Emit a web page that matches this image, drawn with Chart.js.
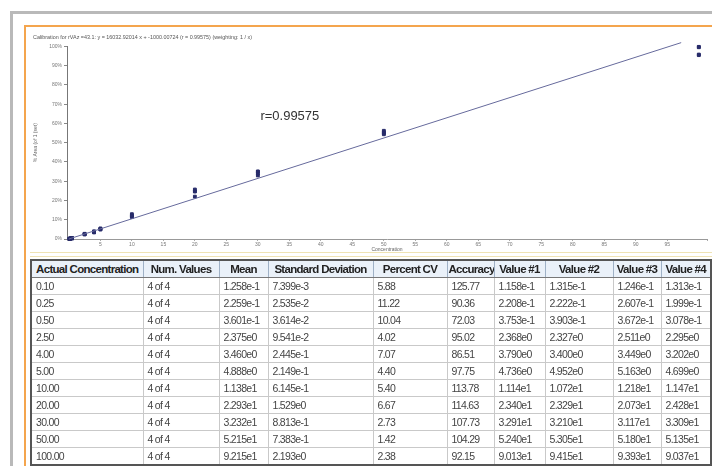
<!DOCTYPE html>
<html>
<head>
<meta charset="utf-8">
<script src="https://cdn.jsdelivr.net/npm/chart.js@4.4.0/dist/chart.umd.min.js"></script>
<style>
  body { margin: 0; background: #fff; font-family: "Liberation Sans", Arial, sans-serif; }
  #page { position: relative; width: 712px; height: 466px; overflow: hidden; }
  .gray-top { position: absolute; left: 10px; top: 11px; width: 702px; height: 3px; background: #b9b9b9; }
  .gray-left { position: absolute; left: 10px; top: 11px; width: 3px; height: 455px; background: #b9b9b9; }
  .orange-top { position: absolute; left: 24px; top: 25px; width: 688px; height: 2px; background: #f4a54e; }
  .orange-left { position: absolute; left: 24px; top: 25px; width: 2px; height: 441px; background: #f4a54e; }
  #chartBox { position: absolute; left: 27px; top: 29px; }
  .sep { position: absolute; left: 30px; top: 252px; width: 682px; height: 3px;
         border-top: 1px solid #efe3b4; border-bottom: 1px solid #efe3b4; }
  #tbl { position: absolute; left: 30px; top: 259px; width: 680px; border-collapse: collapse;
         table-layout: fixed; border: 2px solid #555; }
  #tbl th, #tbl td { border: 1px solid #c9c9c9; padding: 0 4px; height: 16px; line-height: 16px;
         white-space: nowrap; overflow: hidden; }
  #tbl th { font-size: 11.5px; letter-spacing: -0.7px; font-weight: bold; color: #222; background: #eaf1f9;
            border-color: #9fb1c6; border-bottom: 1px solid #777; text-align: center; padding: 0 1px; }
  #tbl td { font-size: 10.5px; letter-spacing: -0.7px; color: #444; text-align: left; }
</style>
</head>
<body>
<div id="page">
  <div class="gray-top"></div><div class="gray-left"></div>
  <div class="orange-top"></div><div class="orange-left"></div>
  <div id="chartBox"><canvas id="calib" width="685" height="224"></canvas></div>
  <div class="sep"></div>
  <table id="tbl">
    <colgroup>
      <col style="width:112px"><col style="width:76px"><col style="width:49px"><col style="width:105px">
      <col style="width:74px"><col style="width:47px"><col style="width:51px"><col style="width:68px">
      <col style="width:48px"><col style="width:50px">
    </colgroup>
    <thead><tr id="headRow"></tr></thead>
    <tbody id="body"></tbody>
  </table>
</div>
<script>
// table columns
const headers = ['Actual Concentration', 'Num. Values', 'Mean', 'Standard Deviation', 'Percent CV',
  'Accuracy', 'Value #1', 'Value #2', 'Value #3', 'Value #4'];
const concLabels = ['0.10', '0.25', '0.50', '2.50', '4.00', '5.00', '10.00', '20.00', '30.00', '50.00', '100.00'];
const numValues = ['4 of 4', '4 of 4', '4 of 4', '4 of 4', '4 of 4', '4 of 4', '4 of 4', '4 of 4', '4 of 4', '4 of 4', '4 of 4'];
const means = ['1.258e-1', '2.259e-1', '3.601e-1', '2.375e0', '3.460e0', '4.888e0', '1.138e1', '2.293e1', '3.232e1', '5.215e1', '9.215e1'];
const stdDevs = ['7.399e-3', '2.535e-2', '3.614e-2', '9.541e-2', '2.445e-1', '2.149e-1', '6.145e-1', '1.529e0', '8.813e-1', '7.383e-1', '2.193e0'];
const percentCV = ['5.88', '11.22', '10.04', '4.02', '7.07', '4.40', '5.40', '6.67', '2.73', '1.42', '2.38'];
const accuracy = ['125.77', '90.36', '72.03', '95.02', '86.51', '97.75', '113.78', '114.63', '107.73', '104.29', '92.15'];
const value1 = ['1.158e-1', '2.208e-1', '3.753e-1', '2.368e0', '3.790e0', '4.736e0', '1.114e1', '2.340e1', '3.291e1', '5.240e1', '9.013e1'];
const value2 = ['1.315e-1', '2.222e-1', '3.903e-1', '2.327e0', '3.400e0', '4.952e0', '1.072e1', '2.329e1', '3.210e1', '5.305e1', '9.415e1'];
const value3 = ['1.246e-1', '2.607e-1', '3.672e-1', '2.511e0', '3.449e0', '5.163e0', '1.218e1', '2.073e1', '3.117e1', '5.180e1', '9.393e1'];
const value4 = ['1.313e-1', '1.999e-1', '3.078e-1', '2.295e0', '3.202e0', '4.699e0', '1.147e1', '2.428e1', '3.309e1', '5.135e1', '9.037e1'];

// plotted points (% area)
const concentrations = [0.1, 0.25, 0.5, 2.5, 4, 5, 10, 20, 30, 50, 100];
const plotRep1 = [0.12, 0.23, 0.40, 2.5, 4.0, 5.0, 11.8, 24.8, 34.9, 55.5, 95.5];
const plotRep2 = [0.14, 0.24, 0.41, 2.5, 3.6, 5.2, 11.4, 24.7, 34.0, 56.2, 99.8];
const plotRep3 = [0.13, 0.28, 0.39, 2.7, 3.7, 5.5, 12.9, 22.0, 33.0, 54.9, 99.6];
const plotRep4 = [0.14, 0.21, 0.33, 2.4, 3.4, 5.0, 12.2, 25.7, 35.1, 54.4, 95.8];

// fitted line ends
const fitX = [0, 97.2];
const fitY = [0, 102];
const yTicks = [0, 10, 20, 30, 40, 50, 60, 70, 80, 90, 100];

const head = document.getElementById('headRow');
headers.forEach(h => { const th = document.createElement('th'); th.textContent = h; head.appendChild(th); });
const body = document.getElementById('body');
concLabels.forEach((c, i) => {
  const tr = document.createElement('tr');
  [c, numValues[i], means[i], stdDevs[i], percentCV[i], accuracy[i], value1[i], value2[i], value3[i], value4[i]]
    .forEach(v => { const td = document.createElement('td'); td.textContent = v; tr.appendChild(td); });
  body.appendChild(tr);
});

const points = [];
[plotRep1, plotRep2, plotRep3, plotRep4].forEach(rep => {
  rep.forEach((y, i) => points.push({ x: concentrations[i], y }));
});

const rLabel = {
  id: 'rLabel',
  afterDatasetsDraw(chart) {
    const { ctx, scales } = chart;
    ctx.save();
    ctx.font = '13px "Liberation Sans", Arial, sans-serif';
    ctx.fillStyle = '#333';
    ctx.textBaseline = 'middle';
    ctx.fillText('r=0.99575', scales.x.getPixelForValue(30.4), scales.y.getPixelForValue(63.5));
    ctx.restore();
  }
};

const tinyFont = { size: 5, family: '"Liberation Sans", Arial, sans-serif' };

new Chart(document.getElementById('calib'), {
  data: {
    datasets: [
      {
        type: 'line',
        data: fitX.map((x, i) => ({ x, y: fitY[i] })),
        borderColor: '#666a9c',
        borderWidth: 1,
        pointRadius: 0,
        clip: false
      },
      {
        type: 'scatter',
        data: points,
        backgroundColor: '#282c6a',
        borderColor: '#282c6a',
        pointRadius: 2,
        pointStyle: 'rect',
        clip: false
      }
    ]
  },
  options: {
    responsive: false,
    animation: false,
    devicePixelRatio: 1,
    layout: { padding: { left: 6, right: 0, top: 0, bottom: 0 } },
    plugins: {
      legend: { display: false },
      tooltip: { enabled: false },
      title: {
        display: true,
        align: 'start',
        text: 'Calibration for rVAz =43.1: y = 16032.92014 x + -1000.00724 (r = 0.99575) (weighting: 1 / x)',
        color: '#555',
        font: { size: 5.4, weight: 'normal', family: '"Liberation Sans", Arial, sans-serif' },
        padding: { top: 5, bottom: 6 }
      }
    },
    scales: {
      x: {
        type: 'linear',
        min: -0.3,
        max: 101.3,
        afterFit(s) { s.height = 14; },
        grid: { display: true, drawOnChartArea: false, tickLength: 2, color: '#aaa' },
        border: { color: '#999', dash: [3, 2] },
        ticks: {
          stepSize: 5,
          autoSkip: false,
          maxRotation: 0,
          padding: 1,
          color: '#777',
          font: tinyFont,
          callback: v => (v > 0 && v < 100 && v % 5 === 0) ? v : ''
        },
        title: { display: true, text: 'Concentration', color: '#666', font: tinyFont, padding: 0 }
      },
      y: {
        min: 0,
        max: 100,
        afterFit(s) { s.width = 34; },
        afterBuildTicks(s) { s.ticks = yTicks.map(v => ({ value: v })); },
        grid: { display: true, drawOnChartArea: false, tickLength: 3, color: '#888' },
        border: { color: '#777' },
        ticks: { color: '#777', font: tinyFont, padding: 2, callback: v => v + '%' },
        title: { display: true, text: '% Area (of 1 (set)', color: '#666', font: tinyFont, padding: 0 }
      }
    }
  },
  plugins: [rLabel]
});
</script>
</body>
</html>
